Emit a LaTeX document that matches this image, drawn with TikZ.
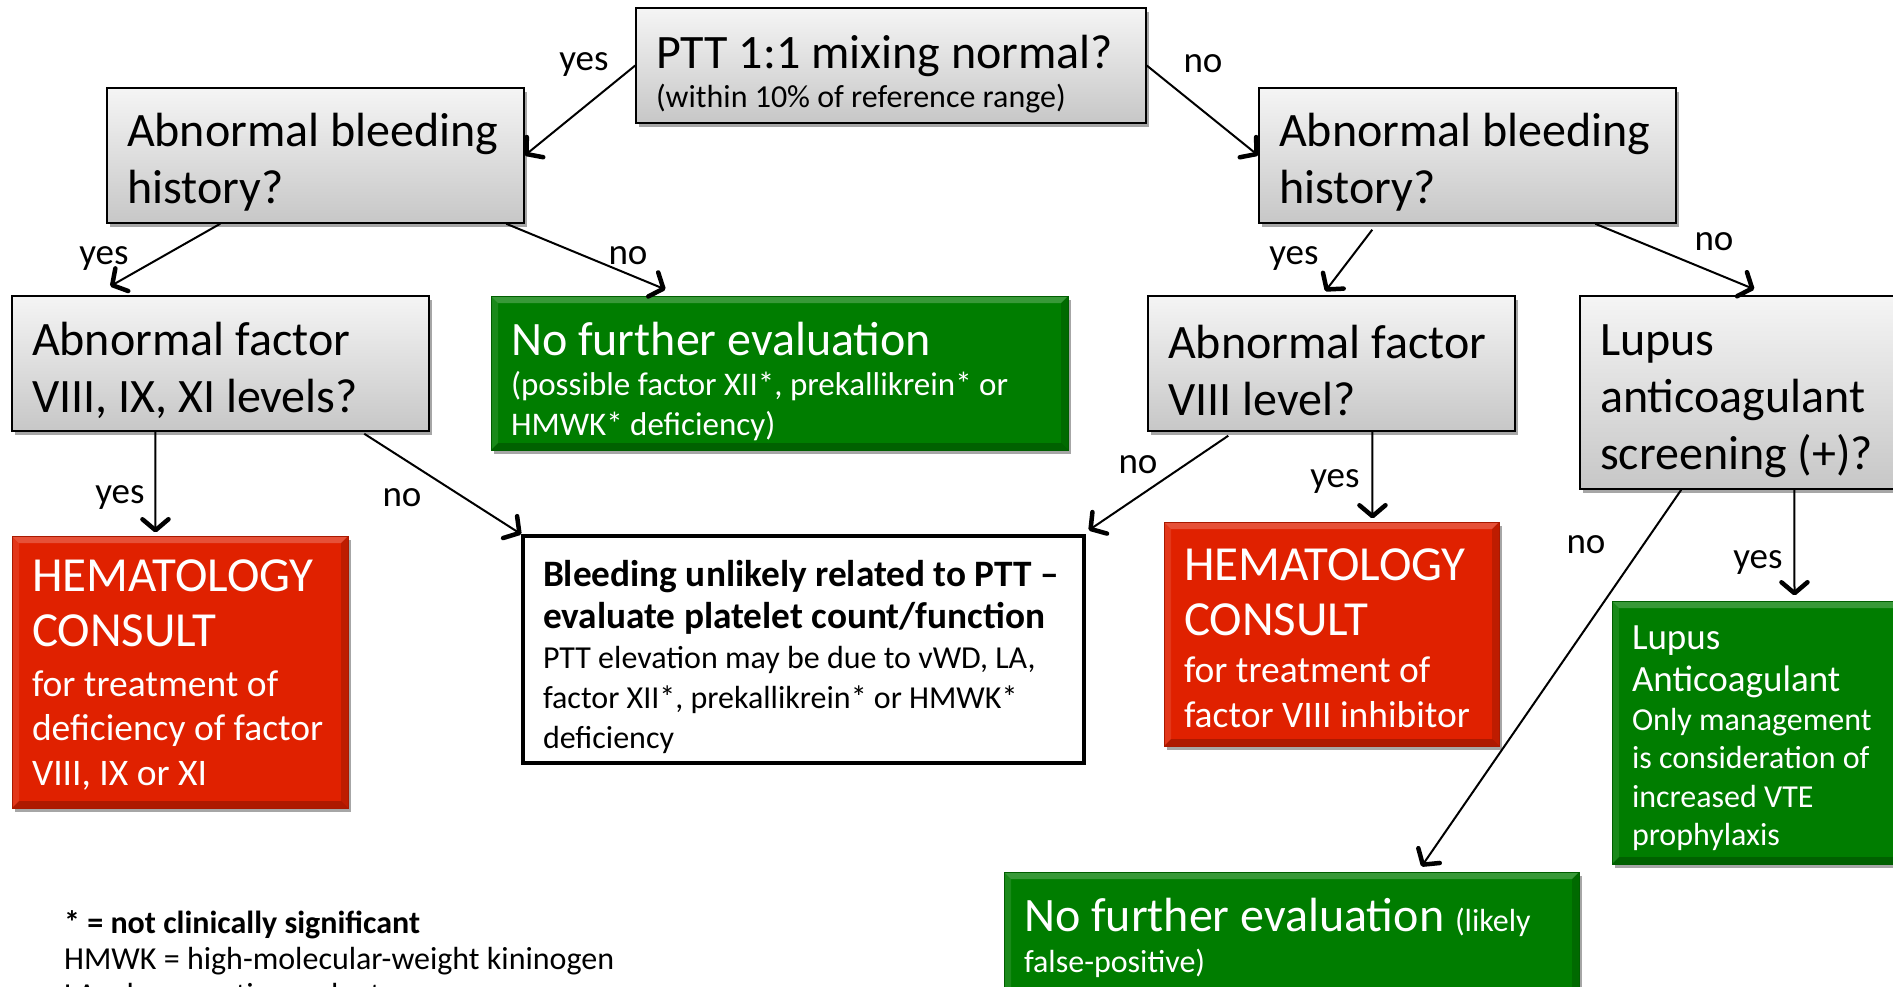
\documentclass[tikz,border=0pt]{standalone}
\usepackage{fontspec}
\setmainfont{Carlito}
\usetikzlibrary{arrows.meta,shadows,calc}
\definecolor{boxgreen}{RGB}{0,125,0}
\definecolor{boxred}{RGB}{224,33,0}
\newcommand\nw[1][14pt]{\par\vskip#1\relax\nointerlineskip\rightskip=-40pt plus 1fil\spaceskip=0pt\xspaceskip=0pt\relax}
\newcommand\bigtxt{\fontsize{48}{57}\selectfont}
\tikzset{
  basebox/.style={inner xsep=20pt, inner ysep=0pt, align=left, anchor=center},
  sz/.style n args={3}{minimum width=#1, minimum height=#2, text width=#3},
  shad/.style={drop shadow={shadow xshift=3pt, shadow yshift=-4pt, opacity=0.35, fill=black}},
  bevel/.style={path picture={
    \fill[white,opacity=0.22] (path picture bounding box.north west) -- (path picture bounding box.north east)
      -- ([xshift=-7pt,yshift=-7pt]path picture bounding box.north east) -- ([xshift=7pt,yshift=-7pt]path picture bounding box.north west) -- cycle;
    \fill[white,opacity=0.10] (path picture bounding box.north west) -- (path picture bounding box.south west)
      -- ([xshift=7pt,yshift=7pt]path picture bounding box.south west) -- ([xshift=7pt,yshift=-7pt]path picture bounding box.north west) -- cycle;
    \fill[black,opacity=0.15] (path picture bounding box.north east) -- (path picture bounding box.south east)
      -- ([xshift=-7pt,yshift=7pt]path picture bounding box.south east) -- ([xshift=-7pt,yshift=-7pt]path picture bounding box.north east) -- cycle;
    \fill[black,opacity=0.22] (path picture bounding box.south west) -- (path picture bounding box.south east)
      -- ([xshift=-7pt,yshift=7pt]path picture bounding box.south east) -- ([xshift=7pt,yshift=7pt]path picture bounding box.south west) -- cycle;
  }},
  qbox/.style={basebox, draw=black, line width=1.5pt, top color=white!96!black, bottom color=black!22, shad},
  gbox/.style={basebox, fill=boxgreen, draw=boxgreen!75!black, line width=1pt, text=white, shad, bevel},
  rbox/.style={basebox, fill=boxred, draw=boxred!75!black, line width=1pt, text=white, shad, bevel},
  wbox/.style={basebox, draw=black, line width=3.5pt, fill=white},
  arr/.style={line width=2pt, -{Straight Barb[length=11pt,width=26pt,line width=4.5pt,round]}},
  lbl/.style={font=\fontsize{37}{43}\selectfont, inner sep=0pt},
  foot/.style={font=\fontsize{32}{36}\selectfont, inner sep=0pt}
}
\begin{document}
\begin{tikzpicture}[x=1pt,y=-1pt]
\useasboundingbox (0,0) rectangle (1893,987);
\fill[white] (0,0) rectangle (1893,987);
\clip (0,0) rectangle (1893,987);

% question boxes
\node[qbox, sz={510pt}{115pt}{470pt}] (T) at (891,65.5)
  {\nw[17pt]{\bigtxt PTT 1:1 mixing normal?\par}{\fontsize{32}{39}\selectfont (within 10\% of reference range)\par}};
\node[qbox, sz={417pt}{135pt}{377pt}] (A1) at (315.5,155.5)
  {\nw{\bigtxt Abnormal bleeding\\history?\par}};
\node[qbox, sz={417pt}{135pt}{377pt}] (A2) at (1467.5,155.5)
  {\nw{\bigtxt Abnormal bleeding\\history?\par}};
\node[qbox, sz={417pt}{135pt}{377pt}] (F1) at (220.5,363.5)
  {\nw{\bigtxt Abnormal factor\\VIII, IX, XI levels?\par}};
\node[qbox, sz={367pt}{135pt}{327pt}] (F2) at (1331.5,363.5)
  {\nw{\bigtxt Abnormal factor\\VIII level?\par}};
\node[qbox, sz={330pt}{193pt}{290pt}] (L) at (1745,392.5)
  {\nw[17pt]{\bigtxt Lupus\\anticoagulant\\screening (+)?\par}};

% outcome boxes
\node[gbox, sz={577pt}{154pt}{537pt}] (G1) at (779.5,373)
  {\nw[17pt]{\bigtxt No further evaluation\par}{\fontsize{33}{40}\selectfont (possible factor XII*, prekallikrein* or\\HMWK* deficiency)\par}};
\node[rbox, sz={336pt}{272pt}{296pt}] (R1) at (180,672)
  {\nw[6pt]{\fontsize{49}{55}\selectfont HEMATOLOGY\\CONSULT\par}\vskip5pt{\fontsize{37.5}{44.5}\selectfont for treatment of\\deficiency of factor\\VIII, IX or XI\par}};
\node[wbox, sz={561pt}{227pt}{521pt}] (B) at (803.5,649.5)
  {\nw{\bfseries\fontsize{37.3}{42}\selectfont Bleeding unlikely related to PTT --\\evaluate platelet count/function\par}{\fontsize{32}{40}\selectfont PTT elevation may be due to vWD, LA,\\factor XII*, prekallikrein* or HMWK*\\deficiency\par}};
\node[rbox, sz={335pt}{224pt}{295pt}] (R2) at (1331.5,634)
  {\nw[8pt]{\fontsize{49}{55}\selectfont HEMATOLOGY\\CONSULT\par}\vskip3pt{\fontsize{37.5}{44.5}\selectfont for treatment of\\factor VIII inhibitor\par}};
\node[gbox, sz={293pt}{263pt}{253pt}] (LA) at (1758.5,732.5)
  {\nw[12pt]{\fontsize{37}{42}\selectfont Lupus\\Anticoagulant\par}{\fontsize{32}{38.5}\selectfont Only management\\is consideration of\\increased VTE\\prophylaxis\par}};
\node[gbox, sz={575pt}{128pt}{535pt}] (G2) at (1291.5,936)
  {\nw[4pt]{\bigtxt No further evaluation {\fontsize{32}{39}\selectfont (likely}\par}{\fontsize{32}{41}\selectfont false-positive)\par}};

% connectors
\draw[arr] (T.west) -- (A1.east);
\draw[arr] (T.east) -- (A2.west);
\draw[arr] ([xshift=114pt]A1.south west) -- ([xshift=99pt,yshift=9pt]F1.north west);
\draw[arr] ([xshift=400pt]A1.south west) -- ([xshift=175pt,yshift=6pt]G1.north west);
\draw[arr] ([xshift=114pt,yshift=-6pt]A2.south west) -- ([xshift=178pt,yshift=4pt]F2.north west);
\draw[arr] ([xshift=337pt]A2.south west) -- ([xshift=175pt,yshift=6pt]L.north west);
\draw[arr] ([xshift=144pt]F1.south west) -- ([xshift=144pt,yshift=3pt]R1.north west);
\draw[arr] ([xshift=353pt,yshift=-2pt]F1.south west) -- (B.north west);
\draw[arr] ([xshift=81pt,yshift=-4pt]F2.south west) -- ([xshift=3pt,yshift=4pt]B.north east);
\draw[arr] ([xshift=225pt]F2.south west) -- ([xshift=209pt,yshift=3pt]R2.north west);
\draw[arr] ([xshift=102pt]L.south west) -- ([xshift=418pt,yshift=5pt]G2.north west);
\draw[arr] ([xshift=215pt]L.south west) -- ([xshift=183pt,yshift=5pt]LA.north west);

% labels
\node[lbl] (y1) at (584,65) {yes};
\node[lbl] (n1) at (1203,64) {no};
\node[lbl] (y2) at (104,259) {yes};
\node[lbl] (n2) at (628,256) {no};
\node[lbl] (y3) at (1294,259) {yes};
\node[lbl] (n3) at (1714,242) {no};
\node[lbl] (y4) at (120,498) {yes};
\node[lbl] (n4) at (402,498) {no};
\node[lbl] (n5) at (1138,465) {no};
\node[lbl] (y5) at (1335,482) {yes};
\node[lbl] (n6) at (1586,545) {no};
\node[lbl] (y6) at (1758,563) {yes};

% footnotes
\node[foot, anchor=base west] (fn1) at (64,933) {\bfseries * = not clinically significant};
\node[foot, anchor=base west] (fn2) at (64,969) {HMWK = high-molecular-weight kininogen};
\node[foot, anchor=base west] (fn3) at (64,1005) {LA = lupus anticoagulant};
\end{tikzpicture}
\end{document}
